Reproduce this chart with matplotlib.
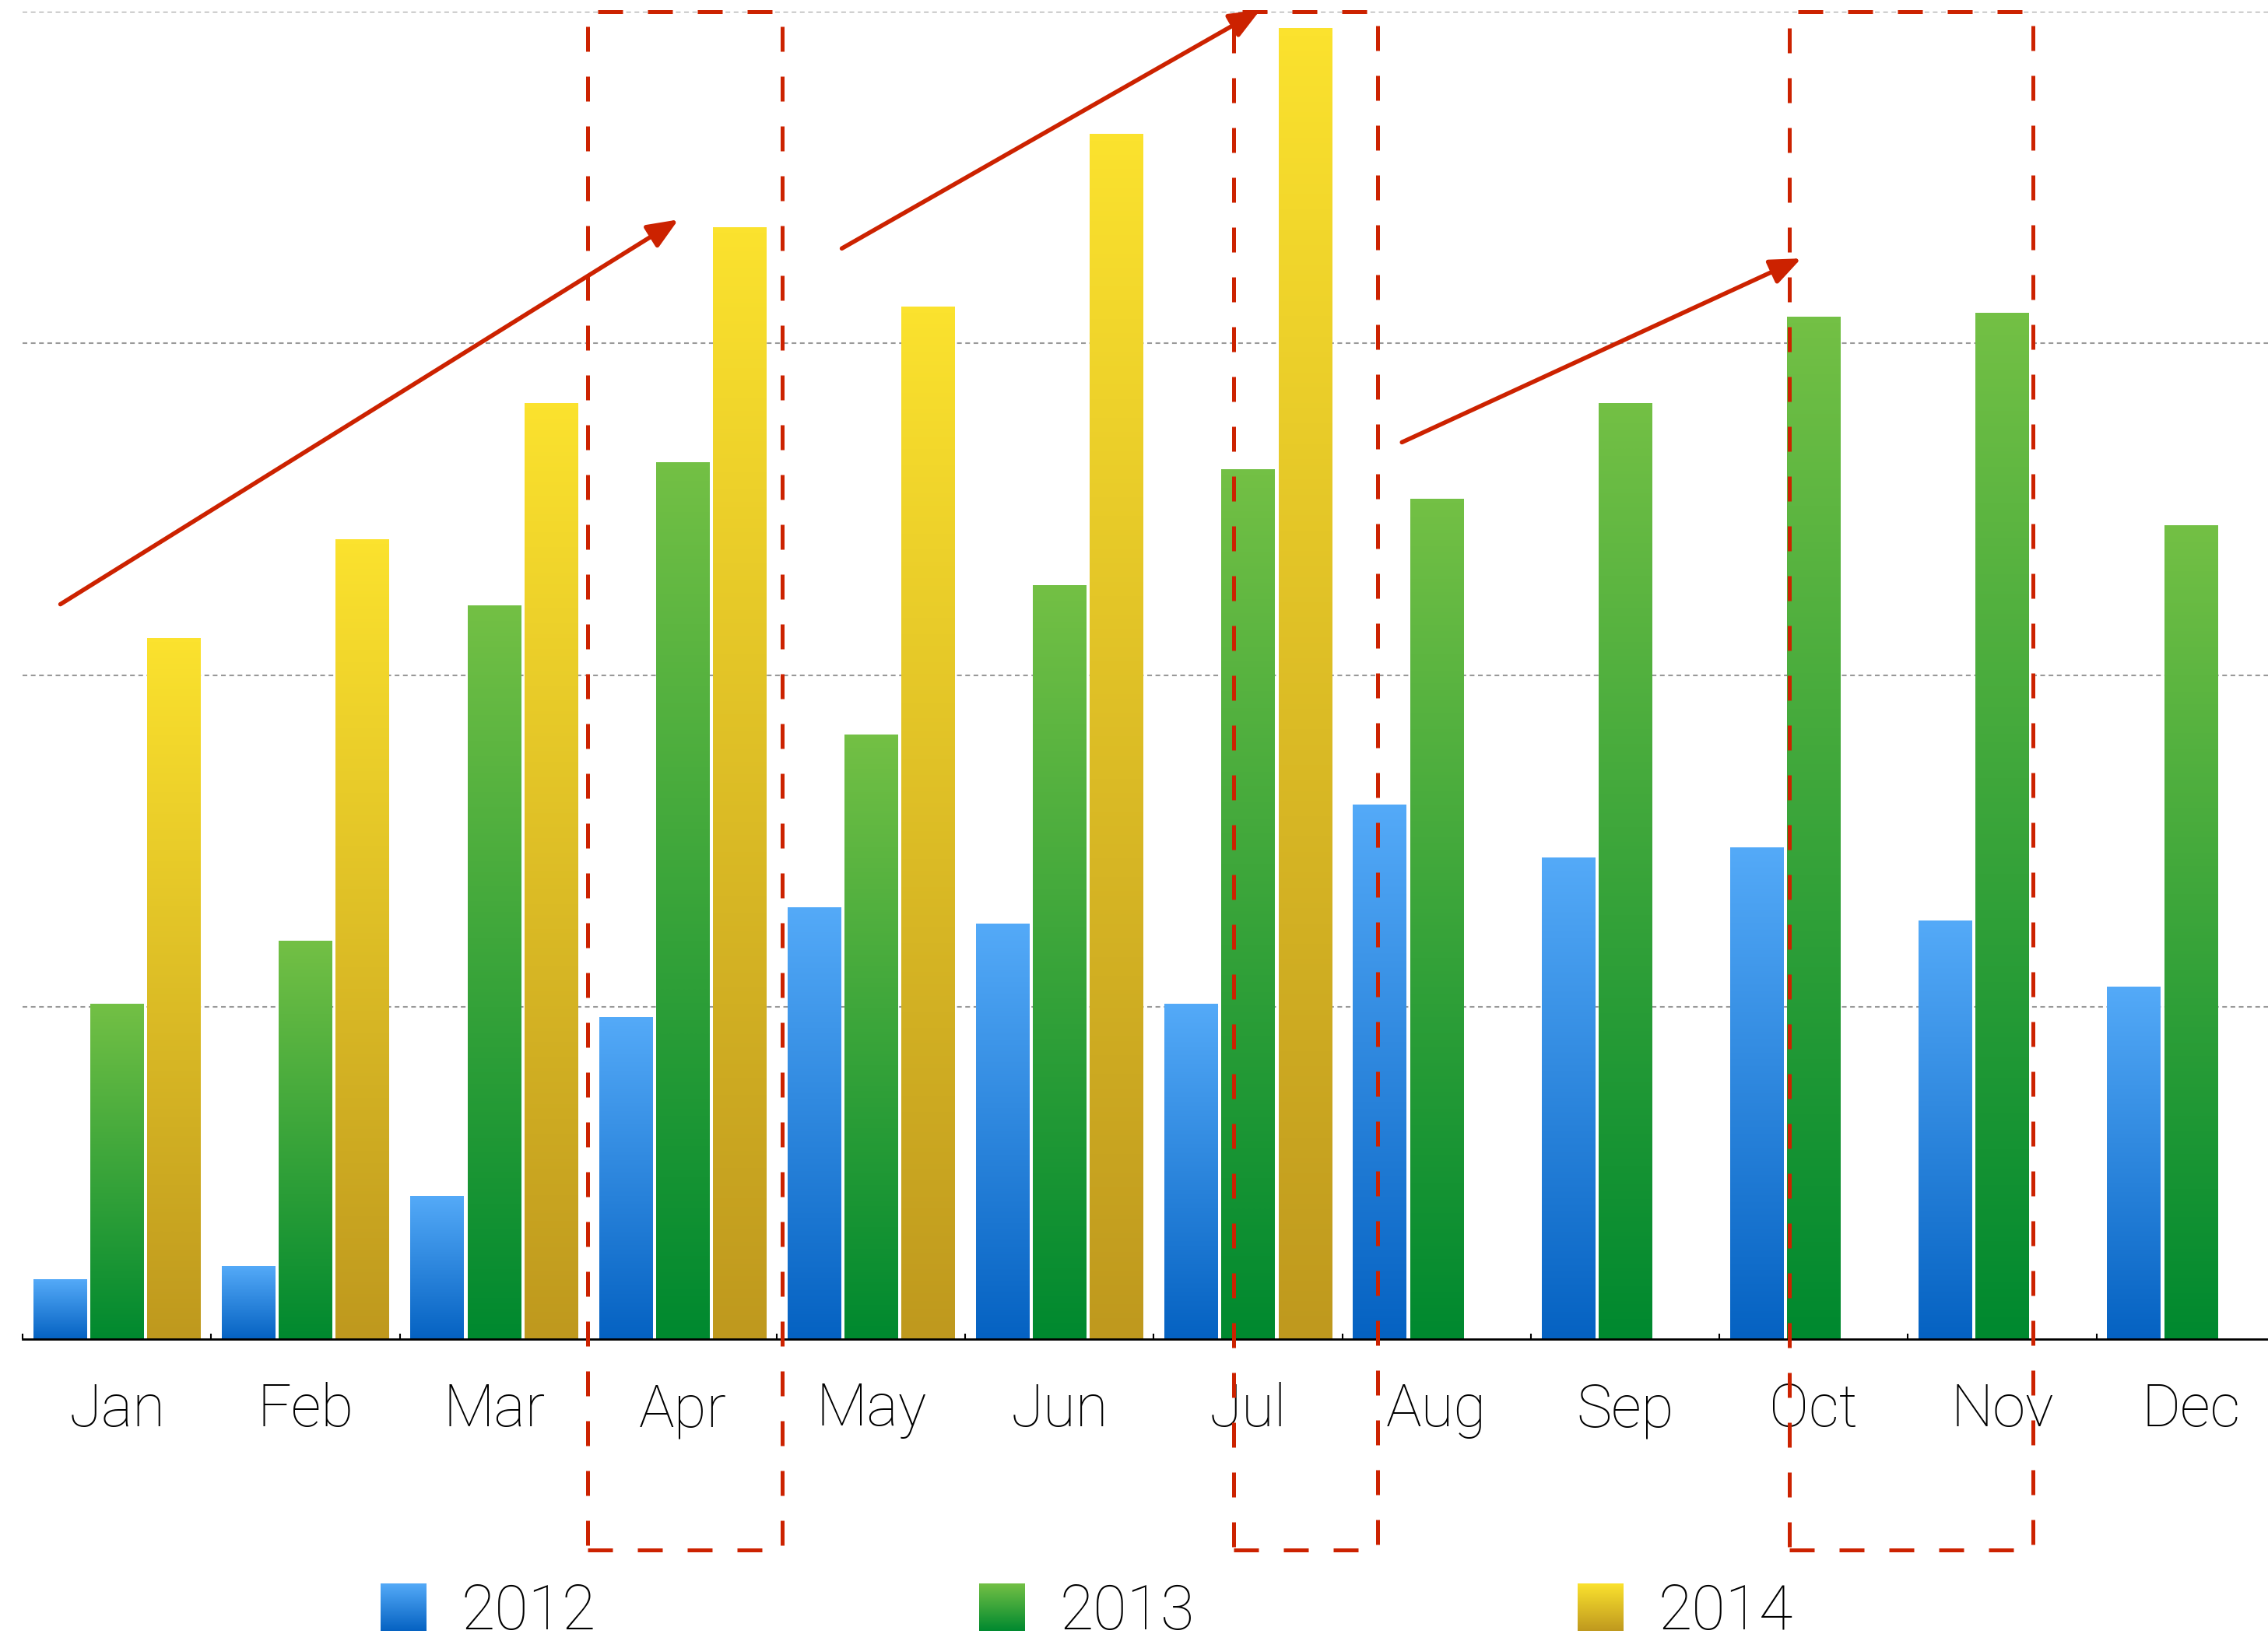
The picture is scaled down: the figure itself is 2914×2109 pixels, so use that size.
import numpy as np
import matplotlib
matplotlib.use("Agg")
import matplotlib.pyplot as plt
from matplotlib.colors import LinearSegmentedColormap
from matplotlib.patches import Rectangle

plt.rcParams['font.family'] = ['Roboto', 'DejaVu Sans']

months = ['Jan', 'Feb', 'Mar', 'Apr', 'May', 'Jun', 'Jul', 'Aug', 'Sep', 'Oct', 'Nov', 'Dec']
years = ['2012', '2013', '2014']
v2012 = [0.18, 0.22, 0.43, 0.97, 1.30, 1.25, 1.01, 1.61, 1.45, 1.48, 1.26, 1.06]
v2013 = [1.01, 1.20, 2.21, 2.64, 1.82, 2.27, 2.62, 2.53, 2.82, 3.08, 3.09, 2.45]
v2014 = [2.11, 2.41, 2.82, 3.35, 3.11, 3.63, 3.95]

# gradient colours (top, bottom)
grads = [('#54aaf8', '#0562c2'), ('#73c045', '#00892f'), ('#fbe22e', '#bf991e')]

fig = plt.figure(figsize=(29.14, 21.09), dpi=100)
ax = fig.add_axes([0.0100, 0.184, 0.990, 0.809])

x = np.arange(len(months))
off = 0.302
w = 0.282
series = [v2012, v2013, v2014]
grad_img = np.linspace(1, 0, 256).reshape(-1, 1)

for i, vals in enumerate(series):
    cmap = LinearSegmentedColormap.from_list('g%d' % i, [grads[i][1], grads[i][0]])
    xs = x[:len(vals)] + (i - 1) * off
    bars = ax.bar(xs, vals, width=w, color='none', edgecolor='none', zorder=2)
    for b in bars:
        x0, y0 = b.get_x(), b.get_y()
        ax.imshow(grad_img, extent=[x0, x0 + b.get_width(), y0, y0 + b.get_height()],
                  aspect='auto', cmap=cmap, vmin=0, vmax=1, zorder=2, interpolation='bilinear')

# grid
ax.set_yticks([1, 2, 3, 4])
ax.yaxis.grid(True, color='#999999', linewidth=1.5, linestyle=(0, (2.9, 2.2)), zorder=0)
ax.set_axisbelow(True)
ax.tick_params(axis='y', length=0, labelleft=False)

for s in ['top', 'right', 'left']:
    ax.spines[s].set_visible(False)
ax.spines['bottom'].set_linewidth(2)

ax.set_xticks(x)
ax.set_xticklabels(months, fontsize=55, fontweight='light')
ax.tick_params(axis='x', which='major', length=0, pad=40)
ax.set_xticks(np.arange(-0.5, 11.5, 1), minor=True)
ax.tick_params(axis='x', which='minor', direction='in', length=5, width=1.5)

ax.set_xlim(-0.5, 11.41)
ax.set_ylim(0, 4)

# red annotations
red = '#cc2200'
arrows = [((-0.30, 2.214), (2.978, 3.373)),
          ((3.845, 3.286), (6.065, 4.005)),
          ((6.816, 2.702), (8.934, 3.256))]
for (s, e) in arrows:
    ax.annotate('', xy=e, xytext=s, annotation_clip=False,
                arrowprops=dict(arrowstyle='-|>,head_length=1.2,head_width=0.5',
                                mutation_scale=20, color=red, lw=4,
                                shrinkA=0, shrinkB=0))

boxes = [(2.495, 3.529), (5.924, 6.685), (8.872, 10.162)]
for (a, b) in boxes:
    ax.add_patch(Rectangle((a, -0.635), b - a, 4.0 + 0.635, fill=False, edgecolor=red,
                           lw=3.6, linestyle=(0, (6.4, 6.4)), clip_on=False, zorder=5))

# legend
for i, yr in enumerate(years):
    cmap = LinearSegmentedColormap.from_list('l%d' % i, [grads[i][1], grads[i][0]])
    lx = 0.1678 + i * 0.2639
    lax = fig.add_axes([lx, 0.0062, 0.0202, 0.0289])
    lax.imshow(grad_img, aspect='auto', cmap=cmap, vmin=0, vmax=1, interpolation='bilinear')
    lax.axis('off')
    fig.text(lx + 0.0355, 0.0172, yr, fontsize=57, fontweight='light', va='center', ha='left')

fig.savefig('out.png', dpi=100)
